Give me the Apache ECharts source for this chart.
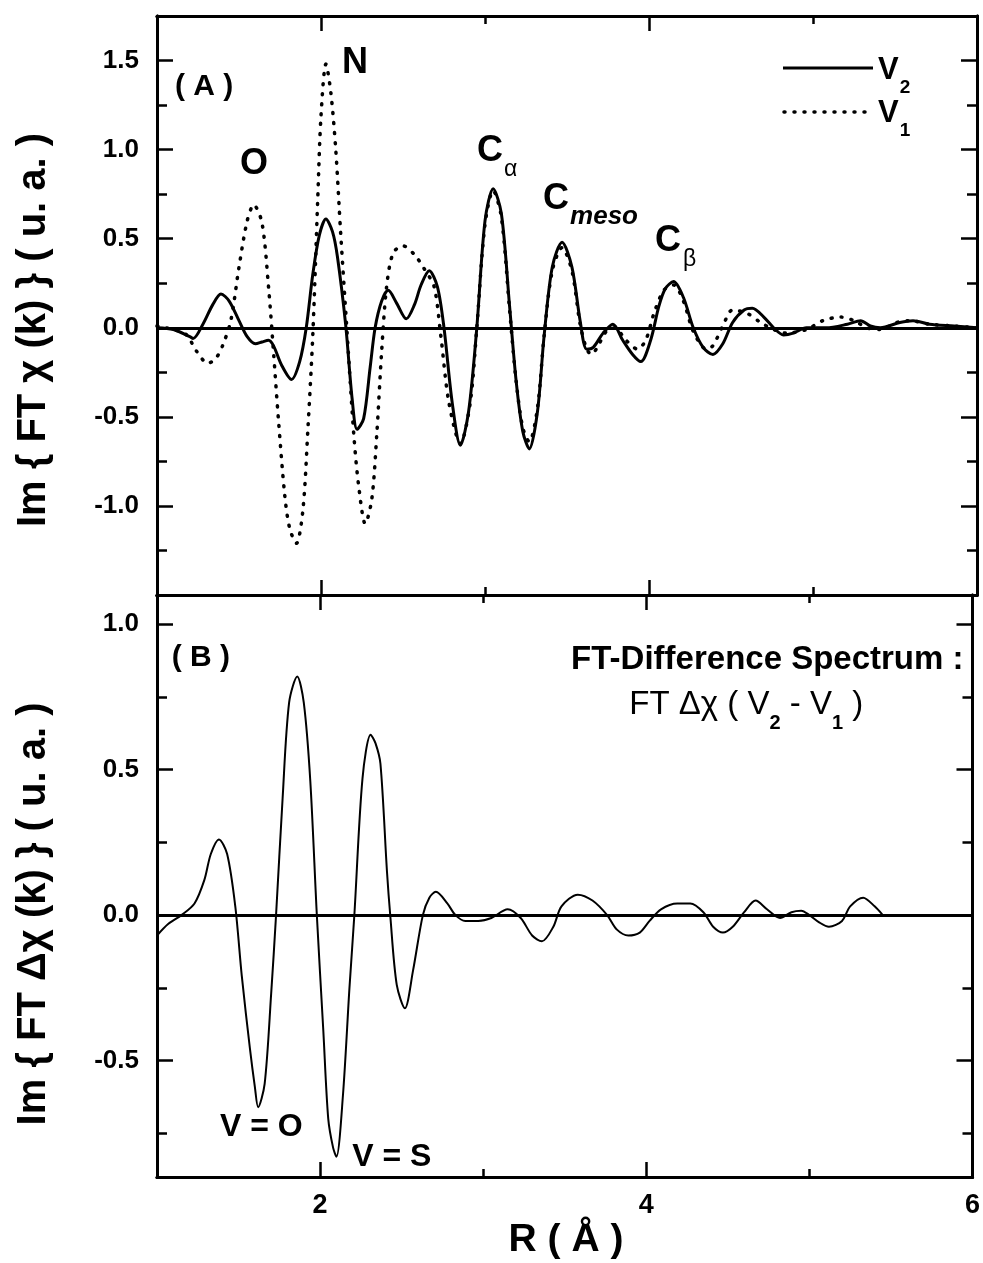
<!DOCTYPE html>
<html><head><meta charset="utf-8">
<script src="https://cdn.jsdelivr.net/npm/echarts@6/dist/echarts.min.js"></script>
<style>html,body{margin:0;padding:0;background:#fff}#c{width:983px;height:1263px}</style>
</head><body><div id="c"></div>
<script>
// ---- data ----
const rV2 = [1.00,1.10,1.20,1.22,1.28,1.34,1.39,1.44,1.50,1.55,1.60,1.64,1.68,1.71,1.76,1.82,1.87,1.91,1.95,1.99,2.03,2.07,2.10,2.15,2.19,2.22,2.26,2.30,2.33,2.37,2.41,2.46,2.52,2.57,2.61,2.66,2.71,2.75,2.80,2.85,2.90,2.95,3.00,3.05,3.10,3.15,3.19,3.23,3.27,3.32,3.36,3.41,3.47,3.53,3.58,3.62,3.66,3.72,3.78,3.84,3.90,3.95,4.01,4.06,4.10,4.15,4.21,4.27,4.33,4.39,4.45,4.51,4.58,4.63,4.70,4.76,4.82,4.88,4.96,5.08,5.21,5.29,5.35,5.41,5.53,5.61,5.71,5.86,6.00];
const v2  = [0.00,-0.01,-0.05,-0.06,0.02,0.13,0.19,0.15,0.04,-0.05,-0.09,-0.08,-0.07,-0.10,-0.21,-0.29,-0.19,0.00,0.30,0.52,0.61,0.54,0.40,0.02,-0.40,-0.57,-0.51,-0.22,0.00,0.15,0.21,0.14,0.05,0.13,0.24,0.32,0.23,0.00,-0.42,-0.66,-0.47,0.00,0.60,0.78,0.64,0.12,-0.30,-0.58,-0.68,-0.47,-0.05,0.34,0.48,0.34,0.04,-0.12,-0.11,-0.03,0.02,-0.07,-0.15,-0.19,-0.07,0.12,0.22,0.26,0.17,0.00,-0.11,-0.15,-0.09,0.03,0.10,0.11,0.06,0.00,-0.04,-0.03,0.00,0.00,0.02,0.04,0.01,0.00,0.03,0.04,0.02,0.01,0.00];
const rV1 = [1.00,1.10,1.18,1.24,1.31,1.36,1.40,1.45,1.50,1.55,1.59,1.64,1.68,1.71,1.74,1.78,1.81,1.85,1.89,1.92,1.95,1.98,2.00,2.03,2.06,2.09,2.12,2.16,2.20,2.23,2.27,2.31,2.34,2.37,2.40,2.44,2.50,2.57,2.63,2.69,2.73,2.78,2.85,2.91,2.95,3.00,3.05,3.10,3.15,3.19,3.23,3.27,3.32,3.36,3.41,3.47,3.53,3.58,3.62,3.65,3.69,3.74,3.79,3.86,3.93,3.98,4.03,4.09,4.15,4.21,4.27,4.35,4.39,4.45,4.51,4.60,4.68,4.76,4.84,4.96,5.06,5.17,5.25,5.33,5.41,5.51,5.59,5.71,5.86,6.00];
const v1  = [0.01,-0.01,-0.04,-0.13,-0.20,-0.17,-0.10,0.04,0.34,0.60,0.69,0.59,0.23,-0.13,-0.51,-0.95,-1.13,-1.21,-1.02,-0.57,-0.04,0.72,1.19,1.48,1.32,1.00,0.53,-0.04,-0.60,-0.89,-1.10,-0.96,-0.60,-0.13,0.23,0.42,0.46,0.41,0.33,0.23,-0.04,-0.42,-0.65,-0.42,0.00,0.58,0.77,0.62,0.10,-0.30,-0.56,-0.64,-0.45,-0.05,0.32,0.45,0.32,0.02,-0.12,-0.15,-0.10,-0.02,0.00,-0.07,-0.12,-0.07,0.08,0.21,0.24,0.15,-0.02,-0.12,-0.10,0.01,0.10,0.08,0.03,-0.01,-0.03,-0.01,0.04,0.06,0.04,0.00,-0.01,0.03,0.04,0.02,0.01,0.00];
const rDiff = [1.00,1.07,1.15,1.23,1.29,1.33,1.38,1.43,1.48,1.52,1.57,1.60,1.62,1.66,1.70,1.73,1.77,1.81,1.86,1.90,1.94,1.98,2.02,2.05,2.08,2.10,2.14,2.18,2.21,2.26,2.31,2.34,2.37,2.41,2.43,2.47,2.52,2.57,2.63,2.67,2.71,2.78,2.83,2.89,2.97,3.05,3.15,3.23,3.30,3.36,3.43,3.48,3.58,3.67,3.76,3.82,3.89,3.96,4.02,4.09,4.19,4.27,4.35,4.41,4.47,4.53,4.60,4.67,4.74,4.82,4.89,4.95,5.00,5.06,5.12,5.20,5.25,5.33,5.40,5.45];
const diff  = [-0.07,-0.03,0.00,0.04,0.12,0.21,0.26,0.21,0.03,-0.21,-0.46,-0.59,-0.66,-0.58,-0.27,0.00,0.40,0.73,0.82,0.73,0.46,0.00,-0.40,-0.70,-0.80,-0.83,-0.62,-0.25,0.00,0.47,0.62,0.59,0.52,0.15,0.00,-0.24,-0.32,-0.19,0.00,0.06,0.08,0.04,0.00,-0.02,-0.02,-0.01,0.02,-0.01,-0.07,-0.09,-0.04,0.03,0.07,0.05,0.00,-0.05,-0.07,-0.06,-0.02,0.02,0.04,0.04,0.01,-0.04,-0.06,-0.04,0.01,0.05,0.02,-0.01,0.01,0.015,0.00,-0.025,-0.04,-0.02,0.03,0.06,0.03,0.00];

const xMajor = [2,4,6];
const xMinor = [3,5];
const topMajor = [-1.0,-0.5,0.0,0.5,1.0,1.5];
const topMinor = [-1.25,-0.75,-0.25,0.25,0.75,1.25];
const botMajor = [-0.5,0.0,0.5,1.0];
const botMinor = [-0.75,-0.25,0.25,0.75];

const FONT = '"Liberation Sans", Arial, sans-serif';
const zip = (a,b) => a.map((x,i)=>[x,b[i]]);

function xAx(g, pos, vals, len, labels){
  return {type:'value', gridIndex:g, position:pos, min:1, max:6,
    axisLine:{show:true,onZero:false,lineStyle:{color:'#000',width:3}},
    axisTick:{show:true,inside:true,length:len,customValues:vals,lineStyle:{color:'#000',width:2.5}},
    axisLabel:{show:labels,customValues:vals,margin:15,color:'#000',fontSize:27,fontWeight:'bold',fontFamily:FONT,formatter:v=>String(v)},
    splitLine:{show:false}};
}
function yAx(g, pos, vals, len, labels, mn, mx){
  return {type:'value', gridIndex:g, position:pos, min:mn, max:mx,
    axisLine:{show:true,onZero:false,lineStyle:{color:'#000',width:3}},
    axisTick:{show:true,inside:true,length:len,customValues:vals,lineStyle:{color:'#000',width:2.5}},
    axisLabel:{show:labels,customValues:vals,margin:18,color:'#000',fontSize:26,fontWeight:'bold',fontFamily:FONT,formatter:v=>v.toFixed(1)},
    splitLine:{show:false}};
}

const chart = echarts.init(document.getElementById('c'), null, {renderer:'canvas'});
const zeroLine = {silent:true,symbol:'none',label:{show:false},emphasis:{disabled:true},
  lineStyle:{color:'#000',width:3,type:'solid'},data:[{yAxis:0}]};

chart.setOption({
  backgroundColor:'#fff', animation:false,
  grid:[{left:157,right:6,top:16,height:579},{left:157,right:6,top:595,height:582}],
  xAxis:[
    xAx(0,'bottom',xMajor,15,false), xAx(0,'bottom',xMinor,8,false),
    xAx(0,'top',xMajor,15,false), xAx(0,'top',xMinor,8,false),
    xAx(1,'bottom',xMajor,15,true), xAx(1,'bottom',xMinor,8,false),
    xAx(1,'top',xMajor,15,false), xAx(1,'top',xMinor,8,false)
  ],
  yAxis:[
    yAx(0,'left',topMajor,16,true,-1.5,1.75), yAx(0,'left',topMinor,10,false,-1.5,1.75),
    yAx(0,'right',topMajor,16,false,-1.5,1.75), yAx(0,'right',topMinor,10,false,-1.5,1.75),
    yAx(1,'left',botMajor,16,true,-0.9,1.1), yAx(1,'left',botMinor,10,false,-0.9,1.1),
    yAx(1,'right',botMajor,16,false,-0.9,1.1), yAx(1,'right',botMinor,10,false,-0.9,1.1)
  ],
  series:[
    {name:'V1',type:'line',xAxisIndex:0,yAxisIndex:0,data:zip(rV1,v1),symbol:'none',smooth:0.3,
      lineStyle:{color:'#000',width:3.5,type:[1,9],cap:'round'},z:2},
    {name:'V2',type:'line',xAxisIndex:0,yAxisIndex:0,data:zip(rV2,v2),symbol:'none',smooth:0.3,
      lineStyle:{color:'#000',width:3},markLine:zeroLine,z:3},
    {name:'diff',type:'line',xAxisIndex:4,yAxisIndex:4,data:zip(rDiff,diff),symbol:'none',smooth:0.3,
      lineStyle:{color:'#000',width:2},markLine:zeroLine,z:3}
  ]
});

// ---- annotations ----
const cv = document.createElement('canvas').getContext('2d');
function fontStr(p){ return `${p.style||'normal'} ${p.weight||'bold'} ${p.size}px ${FONT}`; }
function seq(x, y, parts, align){
  let total = 0; parts.forEach(p=>{ cv.font = fontStr(p); p.w = cv.measureText(p.t).width; total += p.w + (p.gap||0); });
  let cx = align==='right' ? x-total : x;
  return parts.map(p=>{ const el = {type:'text', x:cx, y:y+(p.dy||0), z:10, silent:true,
    style:{text:p.t, fontSize:p.size, fontWeight:p.weight||'bold', fontStyle:p.style||'normal', fontFamily:FONT,
      fill:'#000', align:'left', verticalAlign:'middle'}}; cx += p.w + (p.gap||0); return el; });
}
function ctext(x, y, t, size, rot){
  return {type:'text', x:x, y:y, rotation:rot||0, z:10, silent:true,
    style:{text:t,fontSize:size,fontWeight:'bold',fontFamily:FONT,fill:'#000',align:'center',verticalAlign:'middle'}};
}
const P0 = v => chart.convertToPixel({xAxisIndex:0,yAxisIndex:0}, v);
const P1 = v => chart.convertToPixel({xAxisIndex:4,yAxisIndex:4}, v);
const g = [];
let p;
p = P0([1.11,1.354]); g.push(...seq(p[0],p[1],[{t:'( A )',size:30}]));
p = P0([1.591,0.921]); g.push(ctext(p[0],p[1],'O',36));
p = P0([2.207,1.483]); g.push(ctext(p[0],p[1],'N',36));
p = P0([2.951,0.994]); g.push(...seq(p[0],p[1],[{t:'C',size:36,gap:1},{t:'α',size:23,weight:'normal',dy:19}]));
p = P0([3.354,0.725]); g.push(...seq(p[0],p[1],[{t:'C',size:36,gap:1},{t:'meso',size:26,style:'italic',dy:18}]));
p = P0([4.037,0.489]); g.push(...seq(p[0],p[1],[{t:'C',size:36,gap:2},{t:'β',size:23,weight:'normal',dy:19}]));
// legend
g.push({type:'line',shape:{x1:783,y1:68,x2:873,y2:68},style:{stroke:'#000',lineWidth:3}});
g.push({type:'line',shape:{x1:784,y1:112,x2:873,y2:112},style:{stroke:'#000',lineWidth:3.5,lineDash:[1,9],lineCap:'round'}});
g.push(...seq(878,70,[{t:'V',size:31,gap:1},{t:'2',size:19,dy:18}]));
g.push(...seq(878,113,[{t:'V',size:31,gap:1},{t:'1',size:19,dy:18}]));
// bottom panel
p = P1([1.09,0.886]); g.push(...seq(p[0],p[1],[{t:'( B )',size:30}]));
p = P1([5.945,0.876]); g.push(...seq(p[0],p[1],[{t:'FT-Difference Spectrum :',size:33}],'right'));
p = P1([3.896,0.721]); g.push(...seq(p[0],p[1],[
  {t:'FT Δχ ( V',size:33,weight:'normal'},{t:'2',size:20,dy:18},
  {t:' - V',size:33,weight:'normal'},{t:'1',size:20,dy:18},{t:' )',size:33,weight:'normal'}]));
p = P1([1.64,-0.728]); g.push(ctext(p[0],p[1],'V = O',32));
p = P1([2.44,-0.831]); g.push(ctext(p[0],p[1],'V = S',32));
// axis titles
g.push(ctext(34,330,'Im { FT χ (k) } ( u. a. )',40,Math.PI/2));
g.push(ctext(34,914,'Im { FT Δχ (k) } ( u. a. )',40,Math.PI/2));
g.push(ctext(566,1240,'R ( Å )',39));
chart.setOption({graphic:g});
</script></body></html>
